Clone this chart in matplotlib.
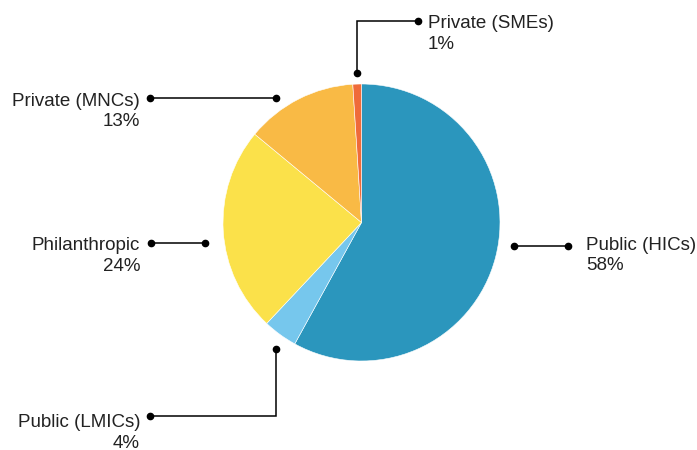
import matplotlib
matplotlib.use("Agg")
import matplotlib.pyplot as plt

labels = ["Public (HICs)", "Public (LMICs)", "Philanthropic", "Private (MNCs)", "Private (SMEs)"]
values = [58, 4, 24, 13, 1]
pct_labels = ["58%", "4%", "24%", "13%", "1%"]
colors = ["#2b96bd", "#76c7ed", "#fbe14a", "#f9ba45", "#ef6b3a"]

# Leader-line layout in pixel coordinates (x right, y down)
leaders = {
    "Public (HICs)": dict(path=[(513.5, 245.5), (568, 245.5)], text=(586, 250), ha="left"),
    "Public (LMICs)": dict(path=[(275.5, 349), (275.5, 416), (150, 416)], text=(140, 427), ha="right"),
    "Philanthropic": dict(path=[(204.5, 243), (150.5, 243)], text=(140, 250.5), ha="right"),
    "Private (MNCs)": dict(path=[(276, 98.3), (150, 98.3)], text=(140, 106), ha="right"),
    "Private (SMEs)": dict(path=[(357, 72.5), (357, 20.5), (418, 20.5)], text=(428, 28.5), ha="left"),
}

W, H = 697, 450
fig = plt.figure(figsize=(W / 100, H / 100), dpi=100)
ax = fig.add_axes([0, 0, 1, 1])

ax.pie(values, colors=colors, startangle=-90, counterclock=True,
       center=(361.5, 222.5), radius=138.5,
       wedgeprops=dict(edgecolor="white", linewidth=0.4))

ax.set_xlim(0, W)
ax.set_ylim(H, 0)
ax.set_aspect("auto")
ax.axis("off")

font = dict(family=["Liberation Sans", "DejaVu Sans"], fontsize=13.5, color="#222222")
for lab, pct in zip(labels, pct_labels):
    info = leaders[lab]
    xs = [p[0] for p in info["path"]]
    ys = [p[1] for p in info["path"]]
    ax.plot(xs, ys, color="black", lw=1.1, solid_joinstyle="miter")
    ax.plot([xs[0], xs[-1]], [ys[0], ys[-1]], "o", color="black", ms=4.5)
    tx, ty = info["text"]
    ax.text(tx, ty, lab, ha=info["ha"], va="baseline", **font)
    ax.text(tx, ty + 20.5, pct, ha=info["ha"], va="baseline", **font)

fig.savefig("out.png", dpi=100)
